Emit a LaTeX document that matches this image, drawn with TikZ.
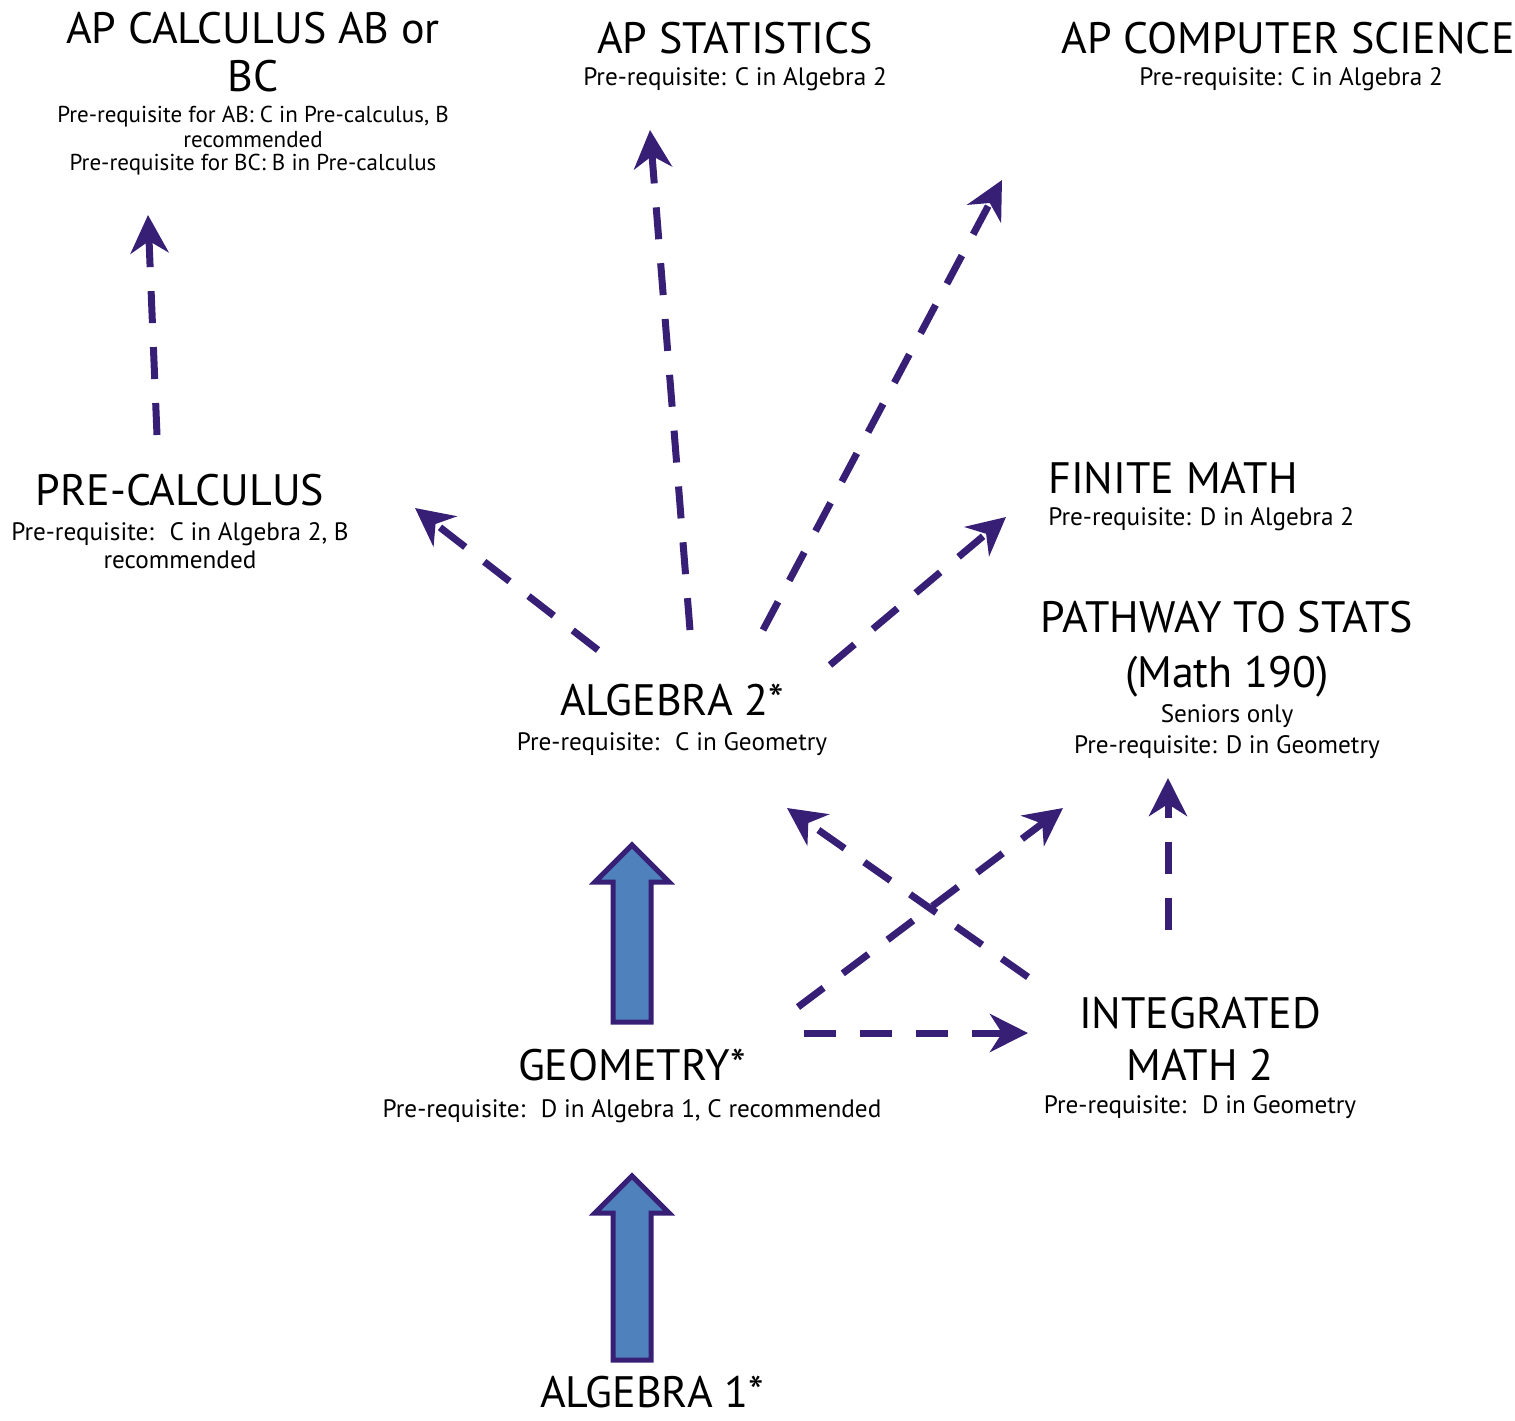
\documentclass[tikz,border=0pt]{standalone}
\usepackage{fontspec}
\setmainfont{PT Sans}
\usetikzlibrary{arrows.meta}

\begin{document}
\begin{tikzpicture}[x=.5pt,y=-.5pt,line join=miter,
		ttl/.style={font=\fontsize{22}{25}\selectfont,anchor=base,inner sep=0pt},
		req/.style={font=\fontsize{12.6}{14}\selectfont,anchor=base,inner sep=0pt},
		smallreq/.style={req,font=\fontsize{11.5}{13}\selectfont},
		dasharrow/.style={draw=pathpurple,line width=3.5pt,dash pattern=on 16pt off 12pt,
			-{Stealth[length=19pt,width=19pt,inset=6pt]}}]
	\definecolor{pathpurple}{RGB}{55,31,118}
	\definecolor{blockblue}{RGB}{79,129,189}
	\useasboundingbox (0,0) rectangle (1515,1420);
	
	% courses
	\node[ttl] (calc) at (253,43) {AP CALCULUS AB or};
	\node[ttl] (calcb) at (253,91) {BC};
	\node[smallreq] (calcreq) at (253,122) {Pre-requisite for AB: C in Pre-calculus, B};
	\node[smallreq] (calcrec) at (253,147) {recommended};
	\node[smallreq] (calcbc) at (253,170) {Pre-requisite for BC: B in Pre-calculus};
	
	\node[ttl] (stats) at (735,53) {AP STATISTICS};
	\node[req] (statsreq) at (735,85) {Pre-requisite: C in Algebra 2};
	
	\node[ttl] (cs) at (1288,53) {AP COMPUTER SCIENCE};
	\node[req] (csreq) at (1291,85) {Pre-requisite: C in Algebra 2};
	
	\node[ttl] (precalc) at (180,505) {PRE-CALCULUS};
	\node[req] (precalcreq) at (180,540) {Pre-requisite:~ C in Algebra 2, B};
	\node[req] (precalcrec) at (180,568) {recommended};
	
	\node[ttl,anchor=base west] (finite) at (1048,493) {FINITE MATH};
	\node[req,anchor=base west] (finitereq) at (1048,525) {Pre-requisite: D in Algebra 2};
	
	\node[ttl] (path) at (1227,632) {PATHWAY TO STATS};
	\node[ttl] (pathmath) at (1227,687) {(Math 190)};
	\node[req] (pathsen) at (1227,722) {Seniors only};
	\node[req] (pathreq) at (1227,753) {Pre-requisite: D in Geometry};
	
	\node[ttl] (alg2) at (672,715) {ALGEBRA 2*};
	\node[req] (alg2req) at (672,750) {Pre-requisite:~ C in Geometry};
	
	\node[ttl] (geom) at (632,1080) {GEOMETRY*};
	\node[req] (geomreq) at (632,1117) {Pre-requisite:~ D in Algebra 1, C recommended};
	
	\node[ttl] (integ) at (1200,1028) {INTEGRATED};
	\node[ttl] (integmath) at (1200,1080) {MATH 2};
	\node[req] (integreq) at (1200,1113) {Pre-requisite:~ D in Geometry};
	
	\node[ttl] (alg1) at (652,1407) {ALGEBRA 1*};
	
	% arrow ends
	\coordinate (precalc-o) at (157,435);  \coordinate (calc-i) at (148,215);
	\coordinate (alg2-o1) at (598,650);    \coordinate (precalc-i) at (415,508);
	\coordinate (alg2-o2) at (690,630);    \coordinate (stats-i) at (650,130);
	\coordinate (alg2-o3) at (763,630);    \coordinate (cs-i) at (1002,180);
	\coordinate (alg2-o4) at (830,665);    \coordinate (finite-i) at (1006,517);
	\coordinate (geom-o1) at (798,1007);   \coordinate (path-i1) at (1063,808);
	\coordinate (integ-o1) at (1028,977);  \coordinate (alg2-i) at (787,808);
	\coordinate (geom-o2) at (804,1033);   \coordinate (integ-i) at (1028,1033);
	\coordinate (integ-o2) at (1168,930);  \coordinate (path-i2) at (1168,778);
	
	\foreach \a/\b in {precalc-o/calc-i,alg2-o1/precalc-i,alg2-o2/stats-i,alg2-o3/cs-i,
		alg2-o4/finite-i,geom-o1/path-i1,integ-o1/alg2-i,geom-o2/integ-i,integ-o2/path-i2}{
		\draw[dasharrow] (\a)--(\b);
	}
	
	% block arrows
	\foreach \y/\h in {1022/177,1360/184}{
		\draw[line width=2.5pt,draw=pathpurple,fill=blockblue]
		(613,\y)--(613,\y-\h+37)--(595,\y-\h+37)--(632,\y-\h)--(669,\y-\h+37)--(651,\y-\h+37)--(651,\y)--cycle;
	}
\end{tikzpicture}
\end{document}
